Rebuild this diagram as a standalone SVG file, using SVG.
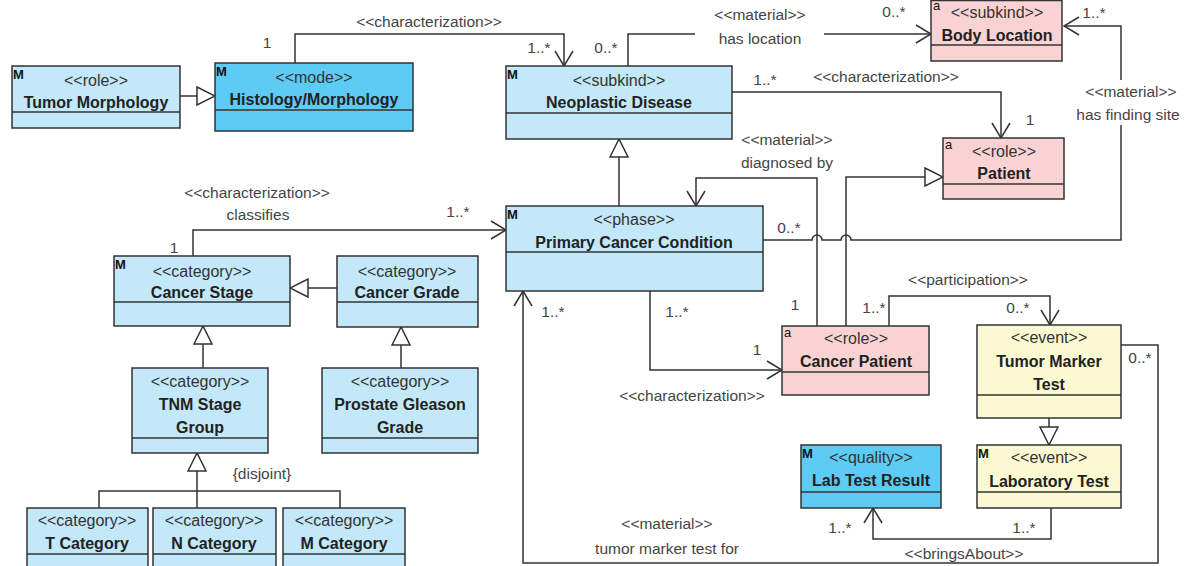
<svg xmlns="http://www.w3.org/2000/svg" width="1194" height="566" viewBox="0 0 1194 566">
<style>
.box{stroke:#333;stroke-width:1.5}
.sep{stroke:#333;stroke-width:1.5}
.lb{fill:#c3e8f9}.db{fill:#5ecbf4}.pk{fill:#f9d3d3}.yl{fill:#fbf9d1}
.st{font-family:"Liberation Sans",Arial,sans-serif;font-size:16px;fill:#333;text-anchor:middle}
.nm{font-family:"Liberation Sans",Arial,sans-serif;font-size:16px;font-weight:bold;fill:#222;text-anchor:middle}
.lbl{font-family:"Liberation Sans",Arial,sans-serif;font-size:15.5px;fill:#444;text-anchor:middle}
.mk{font-family:"Liberation Sans",Arial,sans-serif;font-size:13px;font-weight:bold;fill:#111}
.ak{font-family:"Liberation Sans",Arial,sans-serif;font-size:13px;fill:#111}
.conn{fill:none;stroke:#333;stroke-width:1.5}
</style>
<defs>
<marker id="gen" viewBox="0 0 20 20" refX="19" refY="10" markerWidth="20" markerHeight="20" markerUnits="userSpaceOnUse" orient="auto">
<path d="M1,1 L19,10 L1,19 Z" fill="#fff" stroke="#333" stroke-width="1.5"/>
</marker>
<marker id="open" viewBox="0 0 17 20" refX="16" refY="10" markerWidth="17" markerHeight="20" markerUnits="userSpaceOnUse" orient="auto">
<path d="M1,1 L16,10 L1,19" fill="none" stroke="#333" stroke-width="1.5"/>
</marker>
</defs>
<rect width="1194" height="566" fill="#fff"/>

<g id="connectors">
<path class="conn" d="M180,96 H215" marker-end="url(#gen)"/>
<path class="conn" d="M295,63 V34 H564 V66" marker-end="url(#open)"/>
<path class="conn" d="M628,66 V34 H695"/>
<path class="conn" d="M824,34 H931" marker-end="url(#open)"/>
<path class="conn" d="M732,92 H1001 V138" marker-end="url(#open)"/>
<path class="conn" d="M1121,125 V240 H851 a5,5 0 0 0 -10,0 H822 a5,5 0 0 0 -10,0 H763"/>
<path class="conn" d="M1121,80 V26 H1064" marker-end="url(#open)"/>
<path class="conn" d="M619,206 V139" marker-end="url(#gen)"/>
<path class="conn" d="M817,326 V178 H696 V206" marker-end="url(#open)"/>
<path class="conn" d="M846,326 V177 H943" marker-end="url(#gen)"/>
<path class="conn" d="M193,256 V230 H506" marker-end="url(#open)"/>
<path class="conn" d="M337,288 H290" marker-end="url(#gen)"/>
<path class="conn" d="M203,368 V326" marker-end="url(#gen)"/>
<path class="conn" d="M401,368 V327" marker-end="url(#gen)"/>
<path class="conn" d="M197,508 V453" marker-end="url(#gen)"/>
<path class="conn" d="M99,508 V491 H340 V508"/>
<path class="conn" d="M650,291 V370 H782" marker-end="url(#open)"/>
<path class="conn" d="M889,326 V296 H1050 V325" marker-end="url(#open)"/>
<path class="conn" d="M1121,345 H1158 V563 H523 V291" marker-end="url(#open)"/>
<path class="conn" d="M1049,418 V445" marker-end="url(#gen)"/>
<path class="conn" d="M1051,508 V539 H873 V508" marker-end="url(#open)"/>

<text class="lbl" x="429" y="27">&lt;&lt;characterization&gt;&gt;</text>
<text class="lbl" x="267" y="48">1</text>
<text class="lbl" x="539" y="53">1..*</text>
<text class="lbl" x="606" y="53">0..*</text>
<text class="lbl" x="760" y="20">&lt;&lt;material&gt;&gt;</text>
<text class="lbl" x="760" y="44">has location</text>
<text class="lbl" x="894" y="17">0..*</text>
<text class="lbl" x="1094" y="18">1..*</text>
<text class="lbl" x="765" y="85">1..*</text>
<text class="lbl" x="886" y="82">&lt;&lt;characterization&gt;&gt;</text>
<text class="lbl" x="1030" y="125">1</text>
<text class="lbl" x="1131" y="97">&lt;&lt;material&gt;&gt;</text>
<text class="lbl" x="1128" y="120">has finding site</text>
<text class="lbl" x="787" y="145">&lt;&lt;material&gt;&gt;</text>
<text class="lbl" x="787" y="168">diagnosed by</text>
<text class="lbl" x="720" y="225">1..*</text>
<text class="lbl" x="789" y="233">0..*</text>
<text class="lbl" x="795" y="310">1</text>
<text class="lbl" x="874" y="313">1..*</text>
<text class="lbl" x="968" y="285">&lt;&lt;participation&gt;&gt;</text>
<text class="lbl" x="1018" y="313">0..*</text>
<text class="lbl" x="1140" y="363">0..*</text>
<text class="lbl" x="257" y="198">&lt;&lt;characterization&gt;&gt;</text>
<text class="lbl" x="258" y="220">classifies</text>
<text class="lbl" x="174" y="253">1</text>
<text class="lbl" x="458" y="217">1..*</text>
<text class="lbl" x="553" y="317">1..*</text>
<text class="lbl" x="677" y="317">1..*</text>
<text class="lbl" x="757" y="355">1</text>
<text class="lbl" x="692" y="401">&lt;&lt;characterization&gt;&gt;</text>
<text class="lbl" x="262" y="479">{disjoint}</text>
<text class="lbl" x="667" y="529">&lt;&lt;material&gt;&gt;</text>
<text class="lbl" x="667" y="554">tumor marker test for</text>
<text class="lbl" x="840" y="533">1..*</text>
<text class="lbl" x="1024" y="533">1..*</text>
<text class="lbl" x="964" y="559">&lt;&lt;bringsAbout&gt;&gt;</text>
</g>

<g id="tumor-morphology">
<rect class="box lb" x="12" y="66" width="168" height="62"/>
<line class="sep" x1="12" y1="112" x2="180" y2="112"/>
<text class="mk" x="13" y="79">M</text>
<text class="st" x="96" y="86">&lt;&lt;role&gt;&gt;</text>
<text class="nm" x="96" y="108">Tumor Morphology</text>
</g>

<g id="histology-morphology">
<rect class="box db" x="215" y="63" width="198" height="68"/>
<line class="sep" x1="215" y1="110" x2="413" y2="110"/>
<text class="mk" x="216" y="76">M</text>
<text class="st" x="314" y="83">&lt;&lt;mode&gt;&gt;</text>
<text class="nm" x="314" y="105">Histology/Morphology</text>
</g>

<g id="neoplastic-disease">
<rect class="box lb" x="506" y="66" width="226" height="73"/>
<line class="sep" x1="506" y1="113" x2="732" y2="113"/>
<text class="mk" x="507" y="79">M</text>
<text class="st" x="619" y="86">&lt;&lt;subkind&gt;&gt;</text>
<text class="nm" x="619" y="108">Neoplastic Disease</text>
</g>

<g id="body-location">
<rect class="box pk" x="931" y="0.5" width="131" height="60.5"/>
<line class="sep" x1="931" y1="45" x2="1062" y2="45"/>
<text class="ak" x="933" y="10">a</text>
<text class="st" x="997" y="18">&lt;&lt;subkind&gt;&gt;</text>
<text class="nm" x="997" y="41">Body Location</text>
</g>

<g id="patient">
<rect class="box pk" x="943" y="138" width="121" height="61"/>
<line class="sep" x1="943" y1="184" x2="1064" y2="184"/>
<text class="ak" x="945" y="149">a</text>
<text class="st" x="1004" y="157">&lt;&lt;role&gt;&gt;</text>
<text class="nm" x="1004" y="179">Patient</text>
</g>

<g id="primary-cancer-condition">
<rect class="box lb" x="506" y="206" width="257" height="85"/>
<line class="sep" x1="506" y1="252" x2="763" y2="252"/>
<text class="mk" x="507" y="219">M</text>
<text class="st" x="634" y="225">&lt;&lt;phase&gt;&gt;</text>
<text class="nm" x="634" y="248">Primary Cancer Condition</text>
</g>

<g id="cancer-stage">
<rect class="box lb" x="114" y="256" width="176" height="70"/>
<line class="sep" x1="114" y1="302" x2="290" y2="302"/>
<text class="mk" x="115" y="269">M</text>
<text class="st" x="202" y="277">&lt;&lt;category&gt;&gt;</text>
<text class="nm" x="202" y="298">Cancer Stage</text>
</g>

<g id="cancer-grade">
<rect class="box lb" x="337" y="256" width="141" height="71"/>
<line class="sep" x1="337" y1="302" x2="478" y2="302"/>
<text class="st" x="407" y="277">&lt;&lt;category&gt;&gt;</text>
<text class="nm" x="407" y="298">Cancer Grade</text>
</g>

<g id="tnm-stage-group">
<rect class="box lb" x="132" y="368" width="136" height="85"/>
<line class="sep" x1="132" y1="438" x2="268" y2="438"/>
<text class="st" x="200" y="387">&lt;&lt;category&gt;&gt;</text>
<text class="nm" x="200" y="410">TNM Stage</text>
<text class="nm" x="200" y="433">Group</text>
</g>

<g id="prostate-gleason-grade">
<rect class="box lb" x="322" y="368" width="156" height="85"/>
<line class="sep" x1="322" y1="438" x2="478" y2="438"/>
<text class="st" x="400" y="387">&lt;&lt;category&gt;&gt;</text>
<text class="nm" x="400" y="410">Prostate Gleason</text>
<text class="nm" x="400" y="433">Grade</text>
</g>

<g id="t-category">
<rect class="box lb" x="27" y="508" width="121" height="70"/>
<line class="sep" x1="27" y1="554" x2="148" y2="554"/>
<text class="st" x="87" y="526">&lt;&lt;category&gt;&gt;</text>
<text class="nm" x="87" y="549">T Category</text>
</g>

<g id="n-category">
<rect class="box lb" x="153" y="508" width="123" height="70"/>
<line class="sep" x1="153" y1="554" x2="276" y2="554"/>
<text class="st" x="214" y="526">&lt;&lt;category&gt;&gt;</text>
<text class="nm" x="214" y="549">N Category</text>
</g>

<g id="m-category">
<rect class="box lb" x="283" y="508" width="122" height="70"/>
<line class="sep" x1="283" y1="554" x2="405" y2="554"/>
<text class="st" x="344" y="526">&lt;&lt;category&gt;&gt;</text>
<text class="nm" x="344" y="549">M Category</text>
</g>

<g id="cancer-patient">
<rect class="box pk" x="782" y="326" width="147" height="69"/>
<line class="sep" x1="782" y1="372" x2="929" y2="372"/>
<text class="ak" x="784" y="337">a</text>
<text class="st" x="856" y="344">&lt;&lt;role&gt;&gt;</text>
<text class="nm" x="856" y="367">Cancer Patient</text>
</g>

<g id="tumor-marker-test">
<rect class="box yl" x="977" y="325" width="144" height="93"/>
<line class="sep" x1="977" y1="395" x2="1121" y2="395"/>
<text class="st" x="1049" y="343">&lt;&lt;event&gt;&gt;</text>
<text class="nm" x="1049" y="367">Tumor Marker</text>
<text class="nm" x="1049" y="390">Test</text>
</g>

<g id="laboratory-test">
<rect class="box yl" x="977" y="445" width="144" height="63"/>
<line class="sep" x1="977" y1="492" x2="1121" y2="492"/>
<text class="mk" x="978" y="458">M</text>
<text class="st" x="1049" y="463">&lt;&lt;event&gt;&gt;</text>
<text class="nm" x="1049" y="487">Laboratory Test</text>
</g>

<g id="lab-test-result">
<rect class="box db" x="801" y="445" width="140" height="63"/>
<line class="sep" x1="801" y1="492" x2="941" y2="492"/>
<text class="mk" x="802" y="458">M</text>
<text class="st" x="871" y="463">&lt;&lt;quality&gt;&gt;</text>
<text class="nm" x="871" y="486">Lab Test Result</text>
</g>
</svg>
